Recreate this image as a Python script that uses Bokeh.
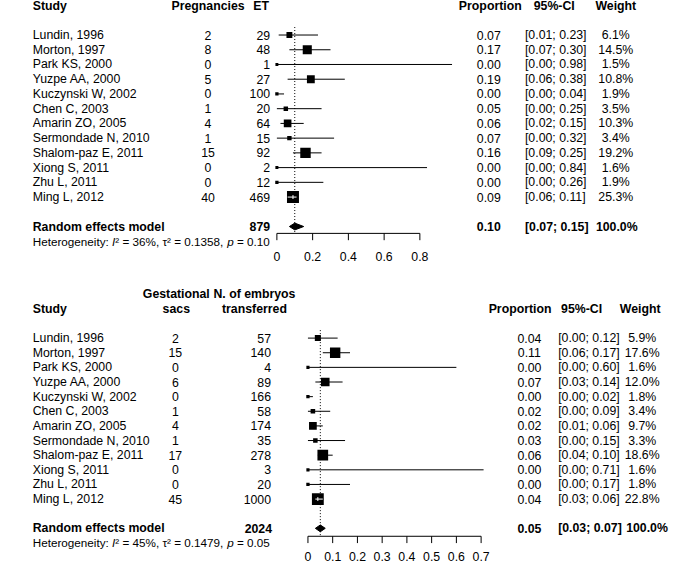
import math
from bokeh.plotting import figure
from bokeh.layouts import column
from bokeh.models import Range1d
from bokeh.core.properties import value
from bokeh.embed import file_html
from bokeh.resources import INLINE

# ---------------- data: top panel (pregnancies per ET) ----------------
studies = ["Lundin, 1996", "Morton, 1997", "Park KS, 2000", "Yuzpe AA, 2000",
           "Kuczynski W, 2002", "Chen C, 2003", "Amarin ZO, 2005",
           "Sermondade N, 2010", "Shalom-paz E, 2011", "Xiong S, 2011",
           "Zhu L, 2011", "Ming L, 2012"]
pregnancies = [2, 8, 0, 5, 0, 1, 4, 1, 15, 0, 0, 40]
et = [29, 48, 1, 27, 100, 20, 64, 15, 92, 2, 12, 469]
prop1 = [0.07, 0.17, 0.00, 0.19, 0.00, 0.05, 0.06, 0.07, 0.16, 0.00, 0.00, 0.09]
lo1 = [0.01, 0.07, 0.00, 0.06, 0.00, 0.00, 0.02, 0.00, 0.09, 0.00, 0.00, 0.06]
hi1 = [0.23, 0.30, 0.98, 0.38, 0.04, 0.25, 0.15, 0.32, 0.25, 0.84, 0.26, 0.11]
weight1 = [6.1, 14.5, 1.5, 10.8, 1.9, 3.5, 10.3, 3.4, 19.2, 1.6, 1.9, 25.3]
re1_est, re1_lo, re1_hi = 0.10, 0.07, 0.15
total1 = 879
het1_i2, het1_tau2, het1_p = "36%", "0.1358", "0.10"
ticks1 = [0, 0.2, 0.4, 0.6, 0.8]
tick_labels1 = ["0", "0.2", "0.4", "0.6", "0.8"]

# ---------------- data: bottom panel (gestational sacs per embryo) ----------------
sacs = [2, 15, 0, 6, 0, 1, 4, 1, 17, 0, 0, 45]
embryos = [57, 140, 4, 89, 166, 58, 174, 35, 278, 3, 20, 1000]
prop2 = [0.04, 0.11, 0.00, 0.07, 0.00, 0.02, 0.02, 0.03, 0.06, 0.00, 0.00, 0.04]
lo2 = [0.00, 0.06, 0.00, 0.03, 0.00, 0.00, 0.01, 0.00, 0.04, 0.00, 0.00, 0.03]
hi2 = [0.12, 0.17, 0.60, 0.14, 0.02, 0.09, 0.06, 0.15, 0.10, 0.71, 0.17, 0.06]
weight2 = [5.9, 17.6, 1.6, 12.0, 1.8, 3.4, 9.7, 3.3, 18.6, 1.6, 1.8, 22.8]
re2_est, re2_lo, re2_hi = 0.05, 0.03, 0.07
total2 = 2024
het2_i2, het2_tau2, het2_p = "45%", "0.1479", "0.05"
ticks2 = [0, 0.1, 0.2, 0.3, 0.4, 0.5, 0.6, 0.7]
tick_labels2 = ["0", "0.1", "0.2", "0.3", "0.4", "0.5", "0.6", "0.7"]

# ---------------- layout ----------------
PAGE_W, PAGE_H = 669, 563
REF_W, REF_H = 685, 579
SX = PAGE_W / REF_W
SY = PAGE_H / REF_H
FONT = value("Liberation Sans")
FS_PX = 12.3
FS = "%.1fpx" % FS_PX
HET_PX = 11.7

# Arial / Liberation Sans advance widths (1/1000 em) for measuring text runs
ADV = {' ': 278, '%': 889, ',': 278, '.': 278, ':': 278, '=': 584, 'H': 722,
       'I': 278, 'e': 556, 't': 278, 'r': 333, 'o': 556, 'g': 556, 'n': 556,
       'i': 222, 'y': 500, 'p': 556, '\u00b2': 333, '\u03c4': 440}


def run_width(s, px):
    em = sum(ADV.get(c, 556) for c in s) / 1000.0
    return em * px / SX   # in reference-pixel units of the "px" range


def make_panel(height, ref_top, ref_bot, row0, dy, zero_x, ppu):
    p = figure(width=PAGE_W, height=height, output_backend="svg", toolbar_location=None,
               x_range=Range1d((0 - zero_x) / ppu, (REF_W - zero_x) / ppu),
               y_range=Range1d((ref_bot - row0) / dy, (ref_top - row0) / dy),
               x_axis_location=None, y_axis_location=None,
               min_border=0, outline_line_color=None)
    p.extra_x_ranges = {"px": Range1d(0, REF_W)}
    p.grid.visible = False
    p.background_fill_color = "white"
    p.border_fill_color = "white"
    return p


def txt(p, x, rows, texts, align="left", style="normal", size=FS):
    n = len(texts)
    p.text(x=[x] * n, y=rows, text=texts, x_range_name="px",
           text_font=FONT, text_font_size=size, text_font_style=style,
           text_align=align, text_baseline="middle", text_color="black")


def forest(p, row0, dy, ppu, est, lo, hi, w, k, re_est, re_lo, re_hi,
           ticks, tick_labels, axis_y, tick_len, label_y, dot_top):
    r = lambda yref: (yref - row0) / dy
    rows = list(range(len(est)))
    re_row = len(est) + 1
    # dotted line at pooled estimate
    p.segment(x0=[re_est], y0=[r(dot_top)], x1=[re_est], y1=[r(axis_y)],
              line_color="black", line_width=1, line_dash="1 2")
    # confidence intervals
    p.segment(x0=lo, y0=rows, x1=hi, y1=rows, line_color="black", line_width=1)
    # weighted squares
    side = [k * math.sqrt(v) for v in w]
    p.scatter(x=est, y=rows, marker="square", size=[s * SY for s in side],
              fill_color="black", line_color=None)
    # CI drawn in white when it lies inside the square
    ins = [i for i in rows if lo[i] >= est[i] - side[i] / 2 / ppu and hi[i] <= est[i] + side[i] / 2 / ppu]
    if ins:
        p.segment(x0=[lo[i] for i in ins], y0=ins, x1=[hi[i] for i in ins], y1=ins,
                  line_color="white", line_width=1)
        p.segment(x0=[est[i] for i in ins], y0=[i - 2 / dy for i in ins],
                  x1=[est[i] for i in ins], y1=[i + 2 / dy for i in ins],
                  line_color="white", line_width=1)
    # diamond
    h = 3.5 / dy
    p.patch(x=[re_lo, re_est, re_hi, re_est], y=[re_row, re_row - h, re_row, re_row + h],
            fill_color="black", line_color="black", line_width=1)
    # x axis
    ay = r(axis_y)
    p.segment(x0=[ticks[0]], y0=[ay], x1=[ticks[-1]], y1=[ay], line_color="black", line_width=1)
    p.segment(x0=ticks, y0=[ay] * len(ticks), x1=ticks, y1=[ay + tick_len / dy] * len(ticks),
              line_color="black", line_width=1)
    p.text(x=ticks, y=[r(label_y)] * len(ticks), text=tick_labels,
           text_font=FONT, text_font_size=FS, text_align="center",
           text_baseline="middle", text_color="black")
    return rows, re_row


def heterogeneity(p, row, i2, tau2, pval):
    # (text drawn, advance including any trailing space, style)
    pieces = [("Heterogeneity:", "Heterogeneity: ", "normal"),
              ("I", "I", "italic"),
              ("\u00b2 = %s, \u03c4\u00b2 = %s," % (i2, tau2),
               "\u00b2 = %s, \u03c4\u00b2 = %s, " % (i2, tau2), "normal"),
              ("p", "p ", "italic"),
              ("= %s" % pval, "", "normal")]
    x = 33.0
    size = "%.1fpx" % HET_PX
    for s, adv, st in pieces:
        txt(p, x, [row], [s], style=st, size=size)
        x += run_width(adv, HET_PX)


# ---------------- top panel ----------------
T_ROW0, T_DY, T_ZERO, T_PPU = 35.5, 15.15, 283.0, 183.0
H1 = 282
p1 = make_panel(H1, 0, H1 / SY, T_ROW0, T_DY, T_ZERO, T_PPU)
rows1, rerow1 = forest(p1, T_ROW0, T_DY, T_PPU, prop1, lo1, hi1, weight1, 2.45,
                       re1_est, re1_lo, re1_hi, ticks1, tick_labels1,
                       239.5, 7.0, 263.3, 27.3)
hdr = -2
txt(p1, 33, [hdr], ["Study"], style="bold")
txt(p1, 212.5, [hdr], ["Pregnancies"], "center", "bold")
txt(p1, 275, [hdr], ["ET"], "right", "bold")
txt(p1, 501.5, [hdr], ["Proportion"], "center", "bold")
txt(p1, 567, [hdr], ["95%-CI"], "center", "bold")
txt(p1, 630, [hdr], ["Weight"], "center", "bold")
txt(p1, 33, rows1, studies)
txt(p1, 212.5, rows1, [str(v) for v in pregnancies], "center")
txt(p1, 276, rows1, [str(v) for v in et], "right")
txt(p1, 500, rows1, ["%.2f" % v for v in prop1], "center")
txt(p1, 537, rows1, ["[%.2f; %.2f]" % (a, b) for a, b in zip(lo1, hi1)])
txt(p1, 630, rows1, ["%.1f%%" % v for v in weight1], "center")
txt(p1, 33, [rerow1], ["Random effects model"], style="bold")
txt(p1, 276, [rerow1], [str(total1)], "right", "bold")
txt(p1, 500, [rerow1], ["%.2f" % re1_est], "center", "bold")
txt(p1, 537, [rerow1], ["[%.2f; %.2f]" % (re1_lo, re1_hi)], style="bold")
txt(p1, 631, [rerow1], ["100.0%"], "center", "bold")
heterogeneity(p1, rerow1 + 1, het1_i2, het1_tau2, het1_p)

# ---------------- bottom panel ----------------
B_ROW0, B_DY, B_ZERO, B_PPU = 347.2, 15.05, 314.8, 253.3
H2 = PAGE_H - H1
ref_split = H1 / SY
p2 = make_panel(H2, ref_split, REF_H, B_ROW0, B_DY, B_ZERO, B_PPU)
rows2, rerow2 = forest(p2, B_ROW0, B_DY, B_PPU, prop2, lo2, hi2, weight2, 2.55,
                       re2_est, re2_lo, re2_hi, ticks2, tick_labels2,
                       551.0, 7.0, 572.0, 339.0)
txt(p2, 33, [-2], ["Study"], style="bold")
txt(p2, 180, [-3, -2], ["Gestational", "sacs"], "center", "bold")
txt(p2, 260, [-3, -2], ["N. of embryos", "transferred"], "center", "bold")
txt(p2, 532, [-2], ["Proportion"], "center", "bold")
txt(p2, 595, [-2], ["95%-CI"], "center", "bold")
txt(p2, 655, [-2], ["Weight"], "center", "bold")
txt(p2, 33, rows2, studies)
txt(p2, 179, rows2, [str(v) for v in sacs], "center")
txt(p2, 277, rows2, [str(v) for v in embryos], "right")
txt(p2, 541.5, rows2, ["%.2f" % v for v in prop2], "center")
txt(p2, 571, rows2, ["[%.2f; %.2f]" % (a, b) for a, b in zip(lo2, hi2)])
txt(p2, 657, rows2, ["%.1f%%" % v for v in weight2], "center")
txt(p2, 33, [rerow2], ["Random effects model"], style="bold")
txt(p2, 278, [rerow2], [str(total2)], "right", "bold")
txt(p2, 541.5, [rerow2], ["%.2f" % re2_est], "center", "bold")
txt(p2, 571, [rerow2], ["[%.2f; %.2f]" % (re2_lo, re2_hi)], style="bold")
txt(p2, 662, [rerow2], ["100.0%"], "center", "bold")
heterogeneity(p2, rerow2 + 1, het2_i2, het2_tau2, het2_p)

layout = column(p1, p2, spacing=0)
open("out.html", "w").write(file_html(layout, INLINE))
